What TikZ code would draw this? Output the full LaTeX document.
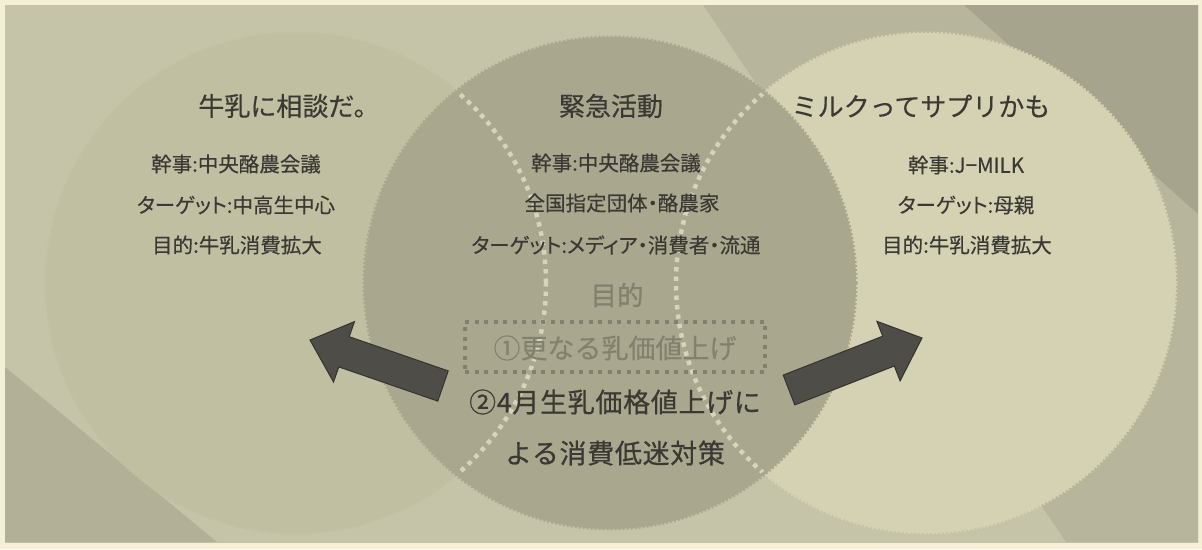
\documentclass[tikz,border=0pt]{standalone}
\usepackage{fontspec}
\newfontfamily\jp[FakeBold=0.35]{Noto Sans CJK JP}
\newfontfamily\jpp[RawFeature=+palt,FakeBold=0.35]{Noto Sans CJK JP}
\newfontfamily\jpb[FakeBold=0.6,LetterSpace=2.5]{Noto Sans CJK JP}
\newfontfamily\jpg[FakeBold=0.9]{Noto Sans CJK JP}
\definecolor{cream}{HTML}{F3F0D6}
\definecolor{bgA}{HTML}{C6C4A8}
\definecolor{bgMid}{HTML}{B7B59B}
\definecolor{bgDark}{HTML}{A6A48C}
\definecolor{bgLow}{HTML}{B2B096}
\definecolor{leftc}{HTML}{C1BFA2}
\definecolor{midc}{HTML}{A9A78D}
\definecolor{rightc}{HTML}{D4D2B2}
\definecolor{wdotc}{HTML}{D6D4BD}
\definecolor{txt}{HTML}{3A3934}
\definecolor{gtxt}{HTML}{82816E}
\definecolor{arrowc}{HTML}{4E4D47}
\definecolor{arrowd}{HTML}{34332F}
\tikzset{
  disc/.style={circle, inner sep=0pt, minimum size=#1, line width=3pt, dash pattern=on 2pt off 2pt},
  wdot/.style={draw=wdotc, line width=4.5pt, dash pattern=on 4.5pt off 5pt},
  gbox/.style={draw=gtxt, line width=4pt, dash pattern=on 4pt off 5.5pt, minimum width=300pt, minimum height=50pt, inner sep=0pt},
  ttl/.style={text=txt, font=\jp\fontsize{26}{30}\selectfont, inner sep=0pt},
  body/.style={text=txt, font=\jpp\fontsize{20.5}{24}\selectfont, inner sep=0pt},
  big/.style={text=txt, font=\jpb\fontsize{27}{31}\selectfont, inner sep=0pt},
  gbig/.style={text=gtxt, font=\jpg\fontsize{26.5}{30}\selectfont, inner sep=0pt},
  blockarrow/.style={fill=arrowc, draw=arrowd, line width=1pt, line join=miter}
}
\begin{document}
\begin{tikzpicture}[x=1pt,y=-1pt]
\useasboundingbox (0,0) rectangle (1202,549);
\fill[cream] (0,0) rectangle (1202,549);
% background bands
\begin{scope}
  \clip (5,5) rectangle (1198,542);
  \fill[bgA] (0,0) rectangle (1202,549);
  \fill[bgMid] (703,5) -- (964,5) -- (1198,214) -- (1198,542) -- (1066,542) -- cycle;
  \fill[bgDark] (964,5) -- (1198,5) -- (1198,214) -- cycle;
  \fill[bgLow] (5,367) -- (5,542) -- (217,542) -- cycle;
\end{scope}
% circles
\node[disc=500pt, fill=leftc, draw=leftc] (cL) at (296,283) {};
\node[disc=500pt, fill=rightc, draw=rightc] (cR) at (926,283) {};
\node[disc=492pt, fill=midc, draw=midc] (cM) at (610,283) {};
% dotted outlines of the side circles inside the middle one
\begin{scope}
  \clip (610,283) circle[radius=243pt];
  \draw[wdot] (296,283) circle[radius=250pt];
  \draw[wdot] (926,283) circle[radius=250pt];
\end{scope}
% left column
\node[ttl] (tL) at (289,106) {牛乳に相談だ。};
\node[body] (l1) at (236,164) {幹事:中央酪農会議};
\node[body] (l2) at (236,205) {ターゲット:中高生中心};
\node[body] (l3) at (237,245) {目的:牛乳消費拡大};
% middle column
\node[ttl] (tM) at (611,106) {緊急活動};
\node[body] (m1) at (616,163) {幹事:中央酪農会議};
\node[body] (m2) at (622,203) {全国指定団体・酪農家};
\node[body] (m3) at (616,245) {ターゲット:メディア・消費者・流通};
\node[gbig] (mg) at (617,295) {目的};
\node[gbox] (box) at (615,346.5) {};
\node[text=gtxt, font=\jp\fontsize{27}{31}\selectfont, inner sep=0pt] (m4) at (615,348) {①更なる乳価値上げ};
\node[big] (m5) at (615,402) {②4月生乳価格値上げに};
\node[big] (m6) at (615,453) {よる消費低迷対策};
% right column
\node[ttl] (tR) at (921,106) {ミルクってサプリかも};
\node[body] (r1) at (966,165) {幹事:J−MILK};
\node[body] (r2) at (966,205) {ターゲット:母親};
\node[body] (r3) at (967,245) {目的:牛乳消費拡大};
% block arrows
\draw[blockarrow] (448.2,370.9) -- (349.2,336.7) -- (354.5,321.6) -- (310,340)
  -- (333.5,382.0) -- (338.8,366.9) -- (437.8,401.1) -- cycle;
\draw[blockarrow] (783.2,375.1) -- (882.7,336.2) -- (876.9,321.3) -- (922,338)
  -- (900.1,380.9) -- (894.3,366.0) -- (794.8,404.9) -- cycle;
\end{tikzpicture}
\end{document}
